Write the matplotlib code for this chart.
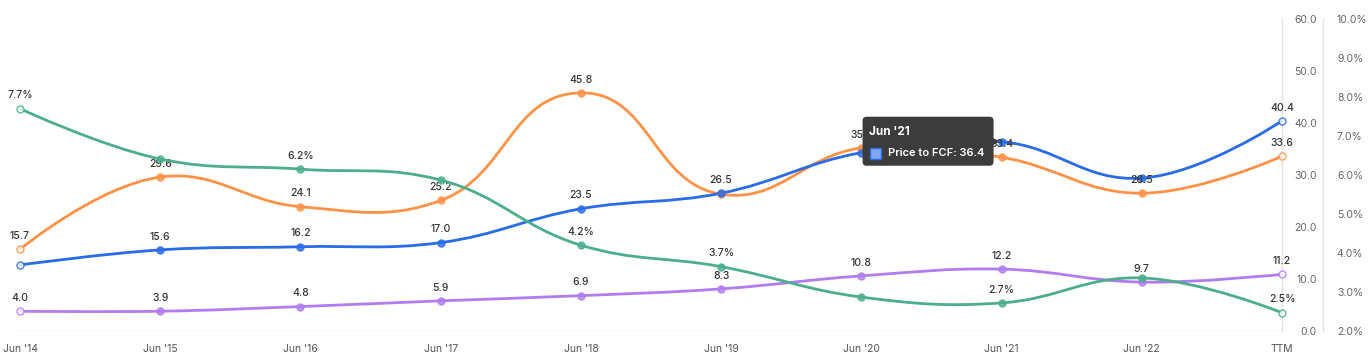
import numpy as np
import matplotlib
matplotlib.use("Agg")
import matplotlib.pyplot as plt
from matplotlib.path import Path
from matplotlib.patches import PathPatch, FancyBboxPatch, Polygon
from matplotlib.transforms import IdentityTransform

plt.rcParams['font.family'] = ['Inter', 'DejaVu Sans']

periods = ["Jun '14", "Jun '15", "Jun '16", "Jun '17", "Jun '18",
           "Jun '19", "Jun '20", "Jun '21", "Jun '22", "TTM"]

price_fcf = [12.7, 15.6, 16.2, 17.0, 23.5, 26.5, 34.3, 36.4, 29.4, 40.4]
price_fcf_show = [0, 1, 1, 1, 1, 1, 0, 0, 0, 1]

orange_vals = [15.7, 29.6, 23.9, 25.1, 45.8, 26.3, 35.2, 33.4, 26.5, 33.6]
orange_labels = ["15.7", "29.6", "24.1", "25.2", "45.8", "", "35.2", "33.4", "26.5", "33.6"]

purple_vals = [3.8, 3.8, 4.7, 5.8, 6.8, 8.1, 10.6, 11.9, 9.4, 10.9]
purple_labels = ["4.0", "3.9", "4.8", "5.9", "6.9", "8.3", "10.8", "12.2", "9.7", "11.2"]

green_pct = [7.7, 6.41, 6.15, 5.87, 4.2, 3.65, 2.87, 2.72, 3.36, 2.47]
green_labels = ["7.7%", "", "6.2%", "", "4.2%", "3.7%", "", "2.7%", "", "2.5%"]

left_ticks = [0, 10, 20, 30, 40, 50, 60]
right_ticks = [2, 3, 4, 5, 6, 7, 8, 9, 10]

BLUE = "#2a6be8"
ORANGE = "#ff9246"
PURPLE = "#b17cf0"
GREEN = "#4cae8a"

W, H = 1369, 360
fig = plt.figure(figsize=(W / 100, H / 100), dpi=100)
ax = fig.add_axes([15 / W, 29 / H, 1267 / W, 312 / H])
ax2 = ax.twinx()

x = np.arange(len(periods))
ax.set_xlim(-5 / 140, len(periods) - 1)
ax.set_ylim(0, 60)
ax2.set_ylim(2, 10)


def spline_path(xs, ys, sx, sy, y0):
    # smooth curve through the points, control points worked out in pixel units
    px = np.asarray(xs, float) * sx
    py = (np.asarray(ys, float) - y0) * sy
    n = len(px)
    lc = [(px[i], py[i]) for i in range(n)]
    rc = [(px[i], py[i]) for i in range(n)]
    s = 1.5
    d = s + 1
    for i in range(1, n - 1):
        lx = (s * px[i] + px[i - 1]) / d
        ly = (s * py[i] + py[i - 1]) / d
        rx = (s * px[i] + px[i + 1]) / d
        ry = (s * py[i] + py[i + 1]) / d
        dl = np.hypot(lx - px[i], ly - py[i])
        dr = np.hypot(rx - px[i], ry - py[i])
        la = np.arctan2(ly - py[i], lx - px[i])
        ra = np.arctan2(ry - py[i], rx - px[i])
        ja = np.pi / 2 + (la + ra) / 2
        if abs(la - ja) > np.pi / 2:
            ja -= np.pi
        lc[i] = (px[i] + np.cos(ja) * dl, py[i] + np.sin(ja) * dl)
        rc[i] = (px[i] + np.cos(np.pi + ja) * dr, py[i] + np.sin(np.pi + ja) * dr)
    verts = [(px[0], py[0])]
    codes = [Path.MOVETO]
    for i in range(1, n):
        verts += [rc[i - 1], lc[i], (px[i], py[i])]
        codes += [Path.CURVE4] * 3
    verts = [(vx / sx, vy / sy + y0) for vx, vy in verts]
    return Path(verts, codes)


def draw_series(axis, vals, labels, color, sy, y0):
    path = spline_path(x, vals, 140.0, sy, y0)
    axis.add_patch(PathPatch(path, facecolor='none', edgecolor=color, lw=2.0,
                             capstyle='round', zorder=3))
    faces = ['white'] + [color] * (len(vals) - 2) + ['white']
    for xi, v, fc in zip(x, vals, faces):
        axis.plot(xi, v, 'o', ms=5, mfc=fc, mec=color, mew=1.1, alpha=0.8,
                  zorder=4, clip_on=False)
    for xi, v, lab in zip(x, vals, labels):
        if lab:
            axis.annotate(lab, (xi, v), xytext=(0, 6),
                          textcoords='offset points', ha='center', va='bottom',
                          fontsize=7.5, fontweight='medium', color='#333333',
                          zorder=6, annotation_clip=False)


fcf_labels = [f"{v:.1f}" if s else "" for v, s in zip(price_fcf, price_fcf_show)]
draw_series(ax2, green_pct, green_labels, GREEN, 39.0, 2.0)
draw_series(ax, purple_vals, purple_labels, PURPLE, 5.2, 0.0)
draw_series(ax, orange_vals, orange_labels, ORANGE, 5.2, 0.0)
draw_series(ax, price_fcf, fcf_labels, BLUE, 5.2, 0.0)

# axes styling
for a in (ax, ax2):
    for sp in ('top', 'left', 'bottom'):
        a.spines[sp].set_visible(False)
    a.spines['right'].set_color('#e3e3e3')
    a.spines['right'].set_linewidth(1.0)
    a.patch.set_visible(False)
ax2.spines['right'].set_position(('axes', (1323 - 15) / 1267))
ax.axhline(0, color='#e3e3e3', lw=1.0, zorder=1)

ax.set_xticks(x)
ax.set_xticklabels(periods)
ax.tick_params(axis='x', length=0, pad=9, labelsize=7.5, labelcolor='#555555')

ax.yaxis.tick_right()
ax.set_yticks(left_ticks)
ax.set_yticklabels([f"{t:.1f}" for t in left_ticks])
ax.tick_params(axis='y', length=0, pad=25, labelsize=7.5, labelcolor='#666666')
for lab in ax.get_yticklabels():
    lab.set_horizontalalignment('right')

ax2.set_yticks(right_ticks)
ax2.set_yticklabels([f"{t:.1f}%" for t in right_ticks])
ax2.tick_params(axis='y', length=0, pad=10, labelsize=7.5, labelcolor='#666666')

# hover tooltip on Jun '21, placed in pixels next to the point
fig.canvas.draw()
tx, ty = ax.transData.transform((7, price_fcf[7]))
bx0, bx1 = tx - 139, tx - 8
by0, by1 = ty - 24, ty + 25
pix = IdentityTransform()
box = FancyBboxPatch((bx0, by0), bx1 - bx0, by1 - by0,
                     boxstyle="round,pad=0,rounding_size=4",
                     transform=pix, facecolor='#3c3c3c', edgecolor='none', zorder=10)
fig.patches.append(box)
tri = Polygon([(bx1 - 1, ty + 4), (bx1 + 5, ty), (bx1 - 1, ty - 4)],
              closed=True, transform=pix, facecolor='#3c3c3c',
              edgecolor='none', zorder=10)
fig.patches.append(tri)
fig.text((bx0 + 6) / W, (by1 - 15) / H, periods[7], color='white', fontsize=8.5,
         fontweight='bold', va='center', ha='left', zorder=11)
sq = FancyBboxPatch((bx0 + 7, by1 - 42), 11, 11, boxstyle="square,pad=0",
                    transform=pix, facecolor='#7fa8f0', edgecolor='#2a6be8',
                    lw=1.0, zorder=11)
fig.patches.append(sq)
fig.text((bx0 + 25) / W, (by1 - 36) / H, f"Price to FCF: {price_fcf[7]:.1f}",
         color='white', fontsize=8, fontweight='semibold', va='center', ha='left',
         zorder=11)

fig.savefig("out.png", dpi=100)
